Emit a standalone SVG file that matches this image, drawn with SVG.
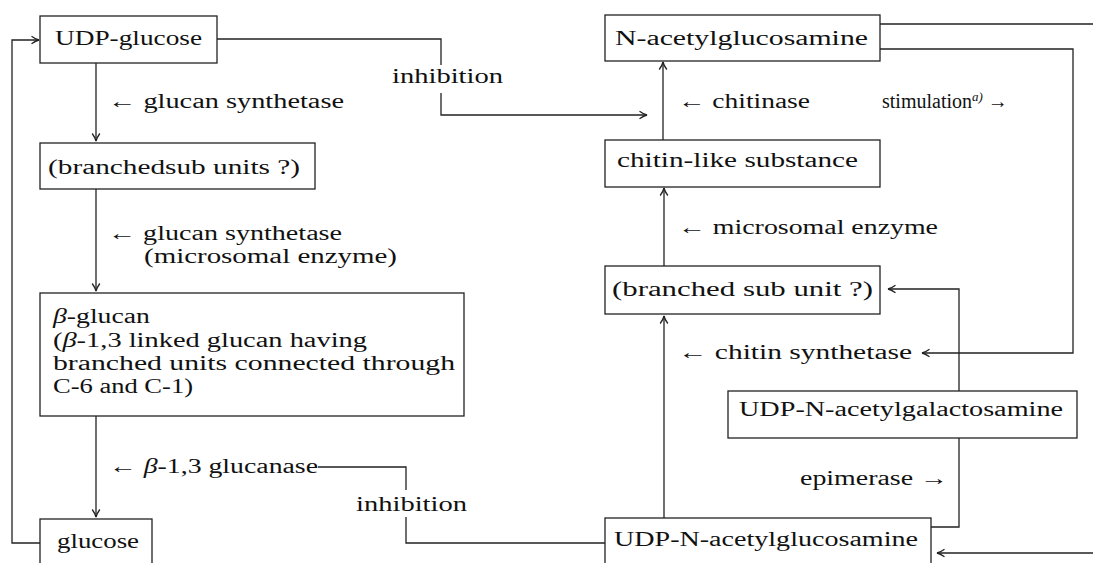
<svg xmlns="http://www.w3.org/2000/svg" width="1093" height="563" viewBox="0 0 1093 563">
<defs>
<style>
.bg{fill:#ffffff}
.box{fill:none;stroke:#222;stroke-width:1.3}
.ln{fill:none;stroke:#222;stroke-width:1.3}
.t{font-family:"Liberation Serif","Times New Roman",serif;font-size:20px;fill:#111}
.it{font-style:italic}
.sup{font-style:italic;font-size:13px}
</style>
<marker id="ah" viewBox="-9 -5 10 10" refX="0" refY="0" markerWidth="10" markerHeight="10" markerUnits="userSpaceOnUse" orient="auto">
<path d="M-7.5,-3.8 Q-3,-0.6 0,0 Q-3,0.6 -7.5,3.8" fill="none" stroke="#222" stroke-width="1.3"/>
</marker>
</defs>
<rect class="bg" x="0" y="0" width="1093" height="563"/>

<g id="connectors">
<path class="ln" d="M40,543 H12 V40 H39" marker-end="url(#ah)"/>
<path class="ln" d="M96,63 V141" marker-end="url(#ah)"/>
<path class="ln" d="M96,189 V291" marker-end="url(#ah)"/>
<path class="ln" d="M96,416 V517" marker-end="url(#ah)"/>
<path class="ln" d="M217,39 H441 V65"/>
<path class="ln" d="M441,93 V115 H647" marker-end="url(#ah)"/>
<path class="ln" d="M663,140 V62" marker-end="url(#ah)"/>
<path class="ln" d="M664,266 V188" marker-end="url(#ah)"/>
<path class="ln" d="M664,518 V316" marker-end="url(#ah)"/>
<path class="ln" d="M880,24 H1093"/>
<path class="ln" d="M880,49 H1073 V353 H922" marker-end="url(#ah)"/>
<path class="ln" d="M959,391 V289 H888" marker-end="url(#ah)"/>
<path class="ln" d="M959,438 V527 H931"/>
<path class="ln" d="M1093,553 H937" marker-end="url(#ah)"/>
<path class="ln" d="M318,467 H406 V490"/>
<path class="ln" d="M406,517 V543 H605"/>
</g>

<g id="labels">
<text class="t" x="392" y="83" textLength="111" lengthAdjust="spacingAndGlyphs">inhibition</text>
<text class="t" x="108" y="108" textLength="236" lengthAdjust="spacingAndGlyphs">← glucan synthetase</text>
<text class="t" x="108" y="240" textLength="234" lengthAdjust="spacingAndGlyphs">← glucan synthetase</text>
<text class="t" x="144" y="263" textLength="253" lengthAdjust="spacingAndGlyphs">(microsomal enzyme)</text>
<text class="t" x="109" y="473" textLength="209" lengthAdjust="spacingAndGlyphs">← <tspan class="it">β</tspan>-1,3 glucanase</text>
<text class="t" x="356" y="511" textLength="111" lengthAdjust="spacingAndGlyphs">inhibition</text>
<text class="t" x="678" y="108" textLength="132" lengthAdjust="spacingAndGlyphs">← chitinase</text>
<text class="t" x="882" y="108">stimulation<tspan class="sup" dy="-7">a)</tspan><tspan dy="7"> →</tspan></text>
<text class="t" x="678" y="234" textLength="260" lengthAdjust="spacingAndGlyphs">← microsomal enzyme</text>
<text class="t" x="678" y="359" textLength="234" lengthAdjust="spacingAndGlyphs">← chitin synthetase</text>
<text class="t" x="800" y="485" textLength="148" lengthAdjust="spacingAndGlyphs">epimerase →</text>
</g>

<g id="n-udp-glucose">
<rect class="box" x="40" y="16" width="177" height="47"/>
<text class="t" x="55" y="45" textLength="147" lengthAdjust="spacingAndGlyphs">UDP-glucose</text>
</g>
<g id="n-branchedsub-units">
<rect class="box" x="40" y="143" width="275" height="46"/>
<text class="t" x="48" y="174" textLength="252" lengthAdjust="spacingAndGlyphs">(branchedsub units ?)</text>
</g>
<g id="n-beta-glucan">
<rect class="box" x="40" y="293" width="424" height="123"/>
<text class="t" x="53" y="323" textLength="97" lengthAdjust="spacingAndGlyphs"><tspan class="it">β</tspan>-glucan</text>
<text class="t" x="53" y="347" textLength="314" lengthAdjust="spacingAndGlyphs">(<tspan class="it">β</tspan>-1,3 linked glucan having</text>
<text class="t" x="53" y="370" textLength="402" lengthAdjust="spacingAndGlyphs">branched units connected through</text>
<text class="t" x="53" y="393" textLength="140" lengthAdjust="spacingAndGlyphs">C-6 and C-1)</text>
</g>
<g id="n-glucose">
<rect class="box" x="40" y="519" width="112" height="50"/>
<text class="t" x="57" y="548" textLength="82" lengthAdjust="spacingAndGlyphs">glucose</text>
</g>
<g id="n-n-acetylglucosamine">
<rect class="box" x="605" y="15" width="275" height="46"/>
<text class="t" x="615" y="45" textLength="253" lengthAdjust="spacingAndGlyphs">N-acetylglucosamine</text>
</g>
<g id="n-chitin-like">
<rect class="box" x="605" y="140" width="275" height="47"/>
<text class="t" x="617" y="167" textLength="241" lengthAdjust="spacingAndGlyphs">chitin-like substance</text>
</g>
<g id="n-branched-sub-unit">
<rect class="box" x="605" y="266" width="275" height="48"/>
<text class="t" x="612" y="296" textLength="261" lengthAdjust="spacingAndGlyphs">(branched sub unit ?)</text>
</g>
<g id="n-udp-galnac">
<rect class="box" x="728" y="391" width="349" height="47"/>
<text class="t" x="739" y="416" textLength="324" lengthAdjust="spacingAndGlyphs">UDP-N-acetylgalactosamine</text>
</g>
<g id="n-udp-glcnac">
<rect class="box" x="605" y="518" width="326" height="50"/>
<text class="t" x="614" y="546" textLength="304" lengthAdjust="spacingAndGlyphs">UDP-N-acetylglucosamine</text>
</g>
</svg>
